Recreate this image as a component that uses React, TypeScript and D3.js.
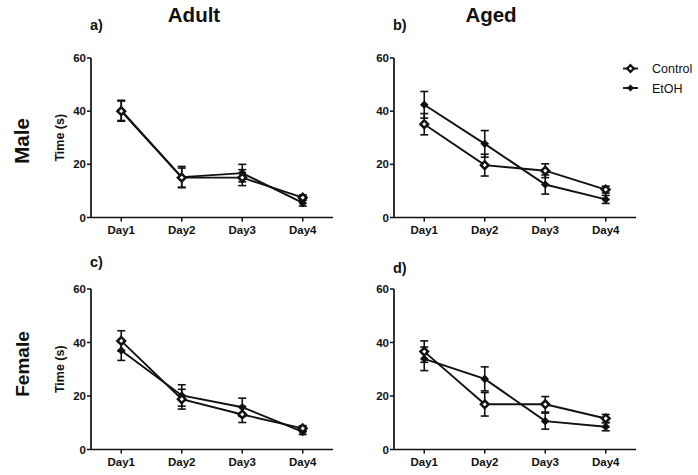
import React from 'react';
import * as d3 from 'd3';

const days = ['Day1', 'Day2', 'Day3', 'Day4'];
const yTicks = [0, 20, 40, 60];

// a) Adult male
const adultMaleControl = [40, 15, 15, 7.5];
const adultMaleControlErr = [3.8, 3.6, 3, 1];
const adultMaleEtoh = [40.3, 15.2, 16.7, 5.5];
const adultMaleEtohErr = [3.8, 4, 3.3, 1.2];

// b) Aged male
const agedMaleControl = [35.1, 19.7, 17.6, 10.5];
const agedMaleControlErr = [4, 4.1, 2.6, 1.3];
const agedMaleEtoh = [42.4, 27.7, 12.4, 6.8];
const agedMaleEtohErr = [5, 5, 3.6, 1.5];

// c) Adult female
const adultFemaleControl = [40.6, 18.8, 13.1, 7.9];
const adultFemaleControlErr = [3.8, 3.7, 3, 1];
const adultFemaleEtoh = [37, 20.2, 15.8, 6.6];
const adultFemaleEtohErr = [3.7, 4, 3.4, 1];

// d) Aged female
const agedFemaleControl = [36.6, 16.9, 16.9, 11.6];
const agedFemaleControlErr = [4, 4.4, 2.9, 1.5];
const agedFemaleEtoh = [33.9, 26.4, 10.6, 8.5];
const agedFemaleEtohErr = [4.4, 4.5, 3, 1.5];

const seriesNames = ['Control', 'EtOH'];

const FONT = '"Liberation Sans", Arial, sans-serif';

interface PanelProps {
  letter: string;
  x0: number;
  yTop: number;
  yBot: number;
  letterY: number;
  yLabel: boolean;
  control: number[];
  controlErr: number[];
  etoh: number[];
  etohErr: number[];
}

const diamond = (cx: number, cy: number, r: number) =>
  `M${cx},${cy - r}L${cx + r},${cy}L${cx},${cy + r}L${cx - r},${cy}Z`;

const Panel: React.FC<PanelProps> = ({ letter, x0, yTop, yBot, letterY, yLabel, control, controlErr, etoh, etohErr }) => {
  const x = d3.scalePoint<string>().domain(days).range([x0, x0 + 242]).padding(0.5);
  const y = d3.scaleLinear().domain([0, 60]).range([yBot, yTop]);
  const line = d3.line<number>()
    .x((_, i) => x(days[i]) as number)
    .y(d => y(d));

  const errBars = (vals: number[], errs: number[], key: string) =>
    vals.map((v, i) => {
      const cx = x(days[i]) as number;
      return (
        <g key={`${key}-${i}`} stroke="#111" strokeWidth={1.6}>
          <line x1={cx} x2={cx} y1={y(v - errs[i])} y2={y(v + errs[i])} />
          <line x1={cx - 4} x2={cx + 4} y1={y(v + errs[i])} y2={y(v + errs[i])} />
          <line x1={cx - 4} x2={cx + 4} y1={y(v - errs[i])} y2={y(v - errs[i])} />
        </g>
      );
    });

  return (
    <g fontFamily={FONT}>
      <text x={x0 - 1} y={letterY} fontSize={14.5} fontWeight="bold" fill="#111">{letter}</text>
      {/* axes */}
      <line x1={x0} x2={x0} y1={yTop} y2={yBot} stroke="#111" strokeWidth={1.7} />
      <line x1={x0} x2={x0 + 242} y1={yBot} y2={yBot} stroke="#111" strokeWidth={1.7} />
      {yTicks.map(t => (
        <g key={t}>
          <line x1={x0 - 4} x2={x0} y1={y(t)} y2={y(t)} stroke="#111" strokeWidth={1.5} />
          <text x={x0 - 5} y={y(t)} dy="0.36em" textAnchor="end" fontSize={11.5} fontWeight="bold" fill="#111">{t}</text>
        </g>
      ))}
      {days.map(d => (
        <g key={d}>
          <line x1={x(d)} x2={x(d)} y1={yBot} y2={yBot + 4} stroke="#111" strokeWidth={1.5} />
          <text x={x(d)} y={yBot + 16} textAnchor="middle" fontSize={11.5} fontWeight="bold" fill="#111">{d}</text>
        </g>
      ))}
      {yLabel && (
        <text
          transform={`translate(${x0 - 27},${(yTop + yBot) / 2}) rotate(-90)`}
          textAnchor="middle"
          fontSize={12.5}
          fontWeight="bold"
          fill="#111"
        >Time (s)</text>
      )}
      {/* series */}
      {errBars(etoh, etohErr, 'e')}
      {errBars(control, controlErr, 'c')}
      <path d={line(etoh) || ''} fill="none" stroke="#111" strokeWidth={1.9} />
      <path d={line(control) || ''} fill="none" stroke="#111" strokeWidth={1.9} />
      {etoh.map((v, i) => (
        <path key={`em${i}`} d={diamond(x(days[i]) as number, y(v), 4.3)} fill="#111" />
      ))}
      {control.map((v, i) => (
        <path key={`cm${i}`} d={diamond(x(days[i]) as number, y(v), 3.8)} fill="#fff" stroke="#111" strokeWidth={2.5} />
      ))}
    </g>
  );
};

const App: React.FC = () => {
  return (
    <svg
      width={698}
      height={475}
      style={{ position: 'absolute', left: 0, top: 0, background: '#fff' }}
    >
      <rect width={698} height={475} fill="#fff" />
      <g fontFamily={FONT} fill="#111" fontWeight="bold">
        <text x={194} y={22} textAnchor="middle" fontSize={20.5}>Adult</text>
        <text x={491} y={22} textAnchor="middle" fontSize={20.5}>Aged</text>
        <text transform="translate(29,141) rotate(-90)" textAnchor="middle" fontSize={20.5}>Male</text>
        <text transform="translate(29,364) rotate(-90)" textAnchor="middle" fontSize={19}>Female</text>
      </g>
      <Panel letter="a)" x0={91} yTop={58} yBot={217.5} letterY={30} yLabel
        control={adultMaleControl} controlErr={adultMaleControlErr} etoh={adultMaleEtoh} etohErr={adultMaleEtohErr} />
      <Panel letter="b)" x0={394} yTop={58} yBot={217.5} letterY={30} yLabel={false}
        control={agedMaleControl} controlErr={agedMaleControlErr} etoh={agedMaleEtoh} etohErr={agedMaleEtohErr} />
      <Panel letter="c)" x0={91} yTop={289} yBot={449.5} letterY={267} yLabel
        control={adultFemaleControl} controlErr={adultFemaleControlErr} etoh={adultFemaleEtoh} etohErr={adultFemaleEtohErr} />
      <Panel letter="d)" x0={394} yTop={289} yBot={449.5} letterY={273} yLabel={false}
        control={agedFemaleControl} controlErr={agedFemaleControlErr} etoh={agedFemaleEtoh} etohErr={agedFemaleEtohErr} />
      {/* legend */}
      <g fontFamily={FONT}>
        {seriesNames.map((name, i) => {
          const ly = 68.5 + i * 19.5;
          return (
            <g key={name}>
              <line x1={623} x2={638} y1={ly} y2={ly} stroke="#111" strokeWidth={1.9} />
              {i === 0
                ? <path d={diamond(630.5, ly, 3.3)} fill="#fff" stroke="#111" strokeWidth={2.3} />
                : <path d={diamond(630.5, ly, 3.5)} fill="#111" />}
              <text x={652} y={ly} dy="0.36em" fontSize={12.5} fill="#111">{name}</text>
            </g>
          );
        })}
      </g>
    </svg>
  );
};

export default App;
